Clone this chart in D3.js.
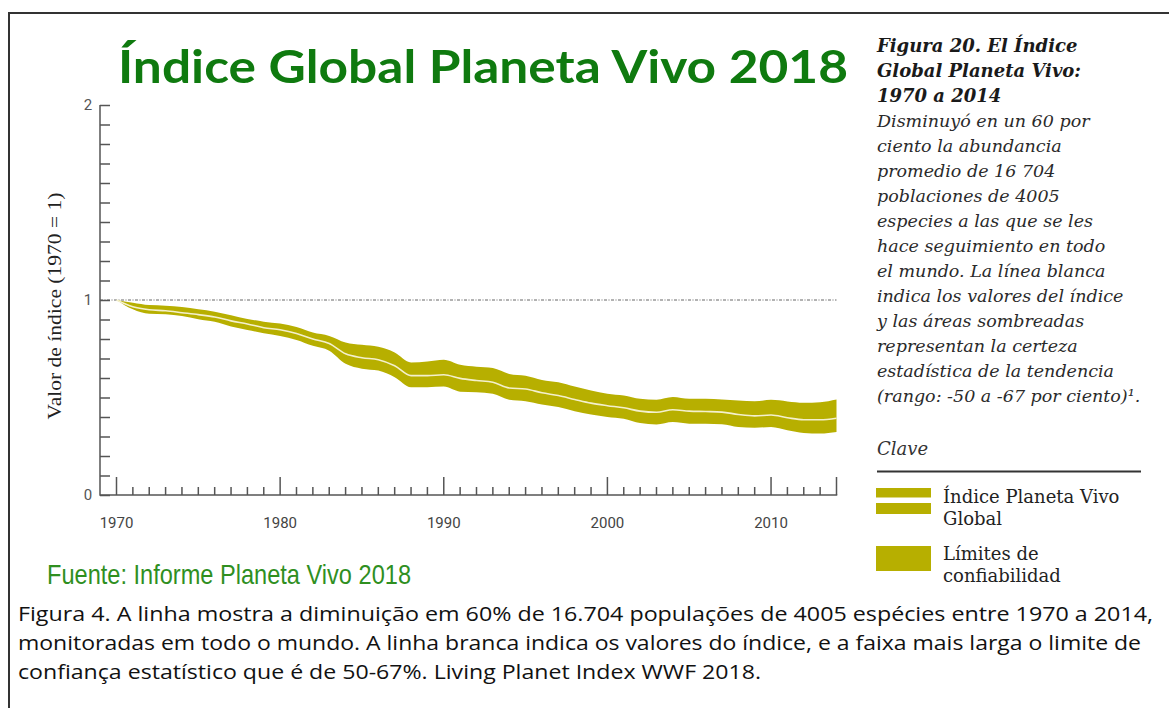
<!DOCTYPE html>
<html>
<head>
<meta charset="utf-8">
<title>Índice Global Planeta Vivo 2018</title>
<script src="https://d3js.org/d3.v7.min.js"></script>
<style>
  body{margin:0;background:#fff;}
  svg{display:block;}
</style>
</head>
<body>
<div id="chart"></div>
<script>
// values, one per year 1970-2014
var years = d3.range(1970, 2015)
var indexValues = [1.00,0.965,0.950,0.945,0.935,0.925,0.913,0.893,0.877,0.858,0.847,0.828,0.800,0.777,0.724,0.704,0.694,0.663,0.612,0.612,
  0.617,0.598,0.587,0.578,0.549,0.544,0.524,0.510,0.490,0.471,0.458,0.447,0.430,0.424,0.437,0.430,0.428,0.425,0.413,0.406,
  0.410,0.396,0.386,0.386,0.394]
var upperValues = [1.00,0.986,0.974,0.971,0.964,0.952,0.940,0.922,0.903,0.889,0.879,0.862,0.833,0.816,0.782,0.770,0.760,0.731,0.680,0.685,
  0.694,0.668,0.658,0.651,0.621,0.612,0.590,0.578,0.556,0.536,0.519,0.510,0.493,0.488,0.502,0.493,0.493,0.490,0.485,0.481,
  0.488,0.480,0.473,0.476,0.490]
var lowerValues = [1.00,0.952,0.929,0.927,0.918,0.901,0.888,0.864,0.846,0.830,0.816,0.795,0.765,0.740,0.673,0.648,0.638,0.604,0.553,0.553,
  0.556,0.530,0.527,0.519,0.488,0.481,0.464,0.451,0.430,0.413,0.400,0.391,0.369,0.362,0.374,0.366,0.366,0.363,0.349,0.345,
  0.349,0.332,0.318,0.315,0.323]
var xTickLabels = [1970, 1980, 1990, 2000, 2010]
var yTickLabels = [0, 1, 2]

var title = "Índice Global Planeta Vivo 2018"
var source = "Fuente: Informe Planeta Vivo 2018"
var yLabel = "Valor de índice (1970 = 1)"
var figTitle = ["Figura 20. El Índice", "Global Planeta Vivo:", "1970 a 2014"]
var figText = ["Disminuyó en un 60 por", "ciento la abundancia", "promedio de 16 704", "poblaciones de 4005",
  "especies a las que se les", "hace seguimiento en todo", "el mundo. La línea blanca", "indica los valores del índice",
  "y las áreas sombreadas", "representan la certeza", "estadística de la tendencia", "(rango: -50 a -67 por ciento)¹."]
var legendLabels = [["Índice Planeta Vivo", "Global"], ["Límites de", "confiabilidad"]]
var caption = ["Figura 4. A linha mostra a diminuição em 60% de 16.704 populações de 4005 espécies entre 1970 a 2014,",
  "monitoradas em todo o mundo. A linha branca indica os valores do índice, e a faixa mais larga o limite de",
  "confiança estatístico que é de 50-67%. Living Planet Index WWF 2018."]

var data = years.map(function(y, i){
  return {year: y, v: indexValues[i], hi: upperValues[i], lo: lowerValues[i]}
})

var W = 1169, H = 708
var bandColor = "#b7af00"
var svg = d3.select("#chart").append("svg").attr("width", W).attr("height", H)

// frame (top + left only)
svg.append("path").attr("d", "M9,708 V13 H1169").attr("fill", "none").attr("stroke", "#333").attr("stroke-width", 2)

var x = d3.scaleLinear().domain([1970, 2014]).range([116.5, 836.5])
var y = d3.scaleLinear().domain([0, 2]).range([495, 105])

// title
svg.append("text").attr("x", 118).attr("y", 83).text(title)
  .attr("font-family", "Lato, 'Noto Sans', sans-serif").attr("font-weight", 700)
  .attr("font-size", 46).attr("fill", "#0f7a0f")
  .attr("textLength", 730).attr("lengthAdjust", "spacingAndGlyphs")

// reference line at 1
svg.append("line").attr("x1", 100).attr("x2", x(2014)).attr("y1", y(1)).attr("y2", y(1))
  .attr("stroke", "#666").attr("stroke-width", 1).attr("stroke-dasharray", "3,1.5,1,1.5")

// confidence band
var area = d3.area().curve(d3.curveMonotoneX)
  .x(function(d){ return x(d.year) })
  .y0(function(d){ return y(d.lo) })
  .y1(function(d){ return y(d.hi) })
svg.append("path").datum(data).attr("d", area).attr("fill", bandColor)

var line = d3.line().curve(d3.curveMonotoneX)
  .x(function(d){ return x(d.year) })
  .y(function(d){ return y(d.v) })
svg.append("path").datum(data).attr("d", line).attr("fill", "none")
  .attr("stroke", "#f4f0cc").attr("stroke-width", 1.6)

// y axis: minor ticks every 0.1
var yAxis = d3.axisRight(y).tickValues(d3.range(0, 21).map(function(d){ return d / 10 }))
  .tickSize(10).tickFormat("")
var gy = svg.append("g").attr("transform", "translate(100,0)").call(yAxis)
gy.selectAll("line").attr("stroke", "#555").attr("stroke-width", 1.5)
gy.select(".domain").remove()
svg.append("line").attr("x1", 100).attr("x2", 100).attr("y1", y(2)).attr("y2", y(0) + 0.75)
  .attr("stroke", "#555").attr("stroke-width", 1.5)

svg.selectAll(".ylab").data(yTickLabels).enter().append("text").attr("class", "ylab")
  .attr("x", 88).attr("y", function(d){ return y(d) + 5 }).attr("text-anchor", "middle")
  .attr("font-family", "'Liberation Sans Narrow', 'Roboto', sans-serif").attr("font-size", 15).attr("fill", "#555")
  .text(function(d){ return d })

// x axis: minor ticks every year, long ticks every decade
var gx = svg.append("g").attr("transform", "translate(0," + y(0) + ")")
gx.selectAll("line").data(years).enter().append("line")
  .attr("x1", function(d){ return x(d) }).attr("x2", function(d){ return x(d) })
  .attr("y1", 0).attr("y2", function(d){ return (d % 10 == 0 || d == 2014) ? -18 : -8 })
  .attr("stroke", "#555").attr("stroke-width", 1.5)
gx.append("line").attr("x1", 100).attr("x2", x(2014) + 0.75).attr("y1", 0).attr("y2", 0)
  .attr("stroke", "#555").attr("stroke-width", 1.5)
gx.selectAll("text").data(xTickLabels).enter().append("text")
  .attr("x", function(d){ return x(d) }).attr("y", 33).attr("text-anchor", "middle")
  .attr("font-family", "'Liberation Sans Narrow', 'Roboto', sans-serif").attr("font-size", 15).attr("fill", "#444")
  .text(function(d){ return d })

// y label
svg.append("text").attr("transform", "translate(61,306) rotate(-90)").attr("text-anchor", "middle")
  .attr("font-family", "'Liberation Serif', serif").attr("font-size", 18).attr("fill", "#222")
  .attr("textLength", 227).attr("lengthAdjust", "spacingAndGlyphs")
  .text(yLabel)

// source
svg.append("text").attr("x", 47).attr("y", 584).text(source)
  .attr("font-family", "'Liberation Sans Narrow', sans-serif").attr("font-size", 28).attr("fill", "#2f8f1f")
  .attr("textLength", 364).attr("lengthAdjust", "spacingAndGlyphs")

// right side text
var serif = "'DejaVu Serif', Georgia, serif"
svg.selectAll(".ftitle").data(figTitle).enter().append("text").attr("class", "ftitle")
  .attr("x", 877).attr("y", function(d, i){ return 52 + i * 25 })
  .attr("font-family", serif).attr("font-style", "italic").attr("font-weight", 700)
  .attr("font-size", 18).attr("fill", "#1a1a1a").text(function(d){ return d })
svg.selectAll(".ftext").data(figText).enter().append("text").attr("class", "ftext")
  .attr("x", 877).attr("y", function(d, i){ return 127 + i * 25 })
  .attr("font-family", serif).attr("font-style", "italic")
  .attr("font-size", 17.5).attr("fill", "#2a2a2a").text(function(d){ return d })

// legend
svg.append("text").attr("x", 877).attr("y", 455).text("Clave")
  .attr("font-family", serif).attr("font-style", "italic").attr("font-size", 18).attr("fill", "#333")
svg.append("line").attr("x1", 877).attr("x2", 1141).attr("y1", 471.5).attr("y2", 471.5)
  .attr("stroke", "#333").attr("stroke-width", 2)
svg.append("rect").attr("x", 876).attr("y", 488).attr("width", 55).attr("height", 26).attr("fill", bandColor)
svg.append("rect").attr("x", 876).attr("y", 497.5).attr("width", 55).attr("height", 5.5).attr("fill", "#fff")
svg.append("rect").attr("x", 876).attr("y", 546).attr("width", 55).attr("height", 25).attr("fill", bandColor)
legendLabels.forEach(function(lines, k){
  lines.forEach(function(t, j){
    svg.append("text").attr("x", 943).attr("y", [503, 560][k] + j * 22).text(t)
      .attr("font-family", serif).attr("font-size", 18).attr("fill", "#222")
  })
})

// caption
var captionWidths = [1135, 1123, 743]
svg.selectAll(".cap").data(caption).enter().append("text").attr("class", "cap")
  .attr("x", 18).attr("y", function(d, i){ return 621 + i * 29 })
  .attr("font-family", "'Open Sans', 'Noto Sans', sans-serif").attr("font-size", 20).attr("fill", "#111")
  .attr("textLength", function(d, i){ return captionWidths[i] }).attr("lengthAdjust", "spacingAndGlyphs")
  .text(function(d){ return d })
</script>
</body>
</html>
